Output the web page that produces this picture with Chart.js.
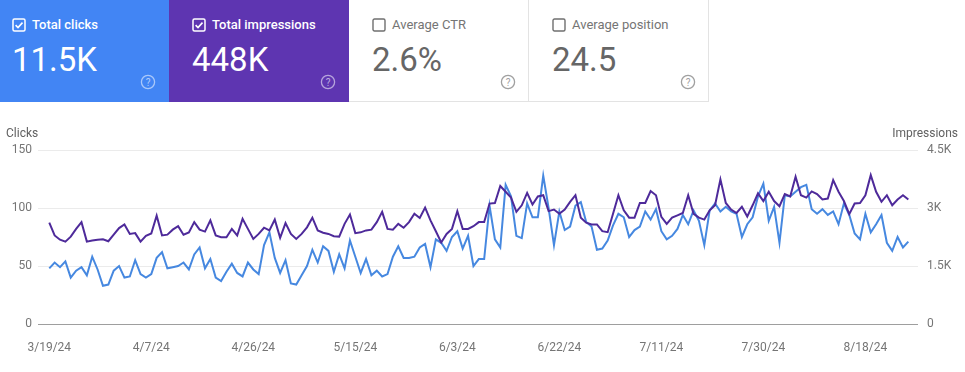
<!DOCTYPE html>
<html>
<head>
<meta charset="utf-8">
<script src="https://cdn.jsdelivr.net/npm/chart.js@4"></script>
<style>
html,body{margin:0;padding:0;background:#fff;}
body{width:965px;height:372px;position:relative;overflow:hidden;font-family:Roboto,Arial,sans-serif;}
.card{position:absolute;top:0;height:102px;box-sizing:border-box;}
.c1{left:0;width:169px;background:#4285f4;color:#fff;}
.c2{left:169px;width:180px;background:#5e35b1;color:#fff;}
.c3{left:349px;width:180px;border-right:1px solid #e3e3e3;border-bottom:1px solid #e3e3e3;color:#757575;}
.c4{left:529px;width:180px;border-right:1px solid #e3e3e3;border-bottom:1px solid #e3e3e3;color:#757575;}
.cb{position:absolute;top:18px;width:14px;height:14px;}
.lbl{position:absolute;top:18px;font-size:13px;line-height:13px;font-weight:500;white-space:nowrap;}
.c3 .lbl,.c4 .lbl{font-weight:400;}
.num{position:absolute;top:43px;font-size:33px;line-height:33px;font-weight:400;white-space:nowrap;}
.c3 .num,.c4 .num{color:#666;}
.help{position:absolute;top:74px;right:13px;width:16px;height:16px;}
#wrap{position:absolute;left:0;top:110px;width:965px;height:262px;}
</style>
</head>
<body>
<div class="card c1">
  <svg class="cb" style="left:12px" viewBox="0 0 14 14"><rect x="1" y="1" width="12" height="12" rx="1.5" fill="none" stroke="#fff" stroke-width="1.5"/><path d="M3.6 7.1 L6 9.5 L10.5 4.6" fill="none" stroke="#fff" stroke-width="1.6"/></svg>
  <div class="lbl" style="left:32px">Total clicks</div>
  <div class="num" style="left:12px">11.5K</div>
  <svg class="help" viewBox="0 0 16 16"><circle cx="8" cy="8" r="6.6" fill="none" stroke="rgba(255,255,255,0.55)" stroke-width="1.3"/><text x="8" y="11.6" font-size="10" font-family="Roboto" text-anchor="middle" fill="rgba(255,255,255,0.6)">?</text></svg>
</div>
<div class="card c2">
  <svg class="cb" style="left:23px" viewBox="0 0 14 14"><rect x="1" y="1" width="12" height="12" rx="1.5" fill="none" stroke="#fff" stroke-width="1.5"/><path d="M3.6 7.1 L6 9.5 L10.5 4.6" fill="none" stroke="#fff" stroke-width="1.6"/></svg>
  <div class="lbl" style="left:43px">Total impressions</div>
  <div class="num" style="left:23px">448K</div>
  <svg class="help" viewBox="0 0 16 16"><circle cx="8" cy="8" r="6.6" fill="none" stroke="rgba(255,255,255,0.55)" stroke-width="1.3"/><text x="8" y="11.6" font-size="10" font-family="Roboto" text-anchor="middle" fill="rgba(255,255,255,0.6)">?</text></svg>
</div>
<div class="card c3">
  <svg class="cb" style="left:23px" viewBox="0 0 14 14"><rect x="1" y="1" width="12" height="12" rx="1.5" fill="none" stroke="#6f6f6f" stroke-width="1.4"/></svg>
  <div class="lbl" style="left:43px">Average CTR</div>
  <div class="num" style="left:23px">2.6%</div>
  <svg class="help" style="right:12px" viewBox="0 0 16 16"><circle cx="8" cy="8" r="6.6" fill="none" stroke="#a0a0a0" stroke-width="1.3"/><text x="8" y="11.6" font-size="10" font-family="Roboto" text-anchor="middle" fill="#a0a0a0">?</text></svg>
</div>
<div class="card c4">
  <svg class="cb" style="left:23px" viewBox="0 0 14 14"><rect x="1" y="1" width="12" height="12" rx="1.5" fill="none" stroke="#6f6f6f" stroke-width="1.4"/></svg>
  <div class="lbl" style="left:43px">Average position</div>
  <div class="num" style="left:23px">24.5</div>
  <svg class="help" style="right:12px" viewBox="0 0 16 16"><circle cx="8" cy="8" r="6.6" fill="none" stroke="#a0a0a0" stroke-width="1.3"/><text x="8" y="11.6" font-size="10" font-family="Roboto" text-anchor="middle" fill="#a0a0a0">?</text></svg>
</div>
<div id="wrap"><canvas id="c"></canvas></div>
<script>
// Daily values, 3/19/24 .. 8/26/24 (161 days)
const clicks = [
  48, 53, 49, 54, 40, 46, 49, 42, 58, 47,
  33, 34, 46, 50, 40, 41, 55, 43, 40, 43,
  57, 62, 48, 49, 50, 53, 47, 60, 66, 48,
  56, 40, 37, 45, 52, 44, 41, 53, 47, 43,
  68, 79, 57, 44, 55, 35, 34, 42, 50, 64,
  53, 67, 63, 45, 60, 48, 72, 58, 44, 56,
  42, 46, 41, 43, 58, 67, 57, 57, 58, 66,
  69, 49, 73, 70, 63, 75, 80, 65, 76, 50,
  56, 56, 102, 73, 66, 120, 110, 76, 74, 104,
  92, 92, 128, 100, 68, 97, 81, 84, 102, 105,
  88, 84, 64, 65, 72, 85, 95, 92, 75, 81,
  84, 97, 90, 99, 80, 73, 76, 82, 94, 86,
  98, 89, 68, 98, 104, 97, 101, 97, 95, 75,
  86, 92, 110, 121, 89, 101, 70, 111, 110, 114,
  118, 120, 99, 95, 99, 94, 97, 86, 104, 94,
  78, 73, 95, 79, 86, 94, 70, 63, 75, 66, 71
];
const impressions = [
  2620, 2290, 2180, 2130, 2260, 2460, 2635, 2130, 2160, 2180,
  2190, 2140, 2310, 2480, 2575, 2330, 2350, 2130, 2280, 2340,
  2800, 2290, 2310, 2440, 2530, 2310, 2370, 2635, 2440, 2390,
  2680, 2290, 2245, 2245, 2460, 2290, 2720, 2460, 2200, 2330,
  2490, 2420, 2700, 2230, 2610, 2330, 2200, 2330, 2500, 2750,
  2420, 2360, 2330, 2270, 2260, 2590, 2830, 2350, 2370, 2420,
  2440, 2635, 2900, 2460, 2440, 2590, 2490, 2635, 2850, 2740,
  3010, 2680, 2400, 2110, 2330, 2460, 2920, 2460, 2460, 2530,
  2635, 2635, 3115, 3130, 3570, 3420, 3270, 2900, 3070, 3390,
  3090, 3300, 3330, 2920, 2960, 2850, 2960, 3160, 3330, 2750,
  2620, 2575, 2575, 2400, 2375, 2850, 3330, 2940, 2750, 2750,
  3130, 3130, 3440, 3330, 2770, 2590, 2750, 2810, 2870, 3330,
  2850, 2750, 2700, 2940, 3070, 3740, 3130, 2960, 2870, 3030,
  2780, 3070, 3380, 3180, 3420, 3180, 3045, 3360, 3300, 3810,
  3330, 3270, 3430, 3360, 3220, 3245, 3720, 3420, 3180, 2840,
  3115, 3130, 3330, 3850, 3420, 3160, 3330, 3070, 3220, 3330, 3220
];
const tickPositions = [0, 19, 38, 57, 76, 95, 114, 133, 152];
const tickLabels = ['3/19/24', '4/7/24', '4/26/24', '5/15/24', '6/3/24', '6/22/24', '7/11/24', '7/30/24', '8/18/24'];
const clickTicks = [0, 50, 100, 150];
const impressionTicks = [0, 1500, 3000, 4500];
const impressionTickLabels = ['0', '1.5K', '3K', '4.5K'];

Chart.defaults.font.family = 'Roboto';

const axisTitles = {
  id: 'axisTitles',
  afterDraw(chart) {
    const c = chart.ctx;
    c.save();
    c.font = '12px Roboto';
    c.fillStyle = '#616161';
    c.textBaseline = 'alphabetic';
    c.textAlign = 'left';
    c.fillText('Clicks', 6, 27);
    c.textAlign = 'right';
    c.fillText('Impressions', 958, 27);
    c.restore();
  }
};

new Chart(document.getElementById('c'), {
  type: 'line',
  data: {
    datasets: [
      {
        label: 'Impressions',
        data: impressions.map((v, i) => ({ x: i, y: v })),
        yAxisID: 'yR',
        borderColor: '#4e2a9a',
        borderWidth: 2,
        pointRadius: 0,
        tension: 0,
        order: 0
      },
      {
        label: 'Clicks',
        data: clicks.map((v, i) => ({ x: i, y: v })),
        yAxisID: 'yL',
        borderColor: '#4688e0',
        borderWidth: 2,
        pointRadius: 0,
        tension: 0,
        order: 1
      }
    ]
  },
  options: {
    responsive: true,
    maintainAspectRatio: false,
    animation: false,
    layout: { padding: { top: 40, left: 0, right: 0, bottom: 0 } },
    plugins: { legend: { display: false }, tooltip: { enabled: false } },
    scales: {
      x: {
        type: 'linear',
        min: -2.1,
        max: 161.8,
        grid: { display: false },
        border: { display: false },
        afterBuildTicks: s => { s.ticks = tickPositions.map(v => ({ value: v })); },
        afterFit: s => { s.height = 48; },
        ticks: {
          autoSkip: false, maxRotation: 0, padding: 9, color: '#757575',
          font: { size: 12 },
          callback: v => { const k = tickPositions.indexOf(v); return k >= 0 ? tickLabels[k] : ''; }
        }
      },
      yL: {
        position: 'left',
        min: 0, max: 150,
        afterBuildTicks: s => { s.ticks = clickTicks.map(v => ({ value: v })); },
        afterFit: s => { s.width = 38; },
        grid: {
          drawTicks: false,
          color: c => (c.tick && c.tick.value === 0) ? '#9e9e9e' : '#ebebeb',
          lineWidth: 1
        },
        border: { display: false },
        ticks: { padding: 6, color: '#757575', font: { size: 12 } }
      },
      yR: {
        position: 'right',
        min: 0, max: 4500,
        afterBuildTicks: s => { s.ticks = impressionTicks.map(v => ({ value: v })); },
        afterFit: s => { s.width = 47; },
        grid: { display: false, drawTicks: false },
        border: { display: false },
        ticks: {
          padding: 9, color: '#757575', font: { size: 12 },
          callback: v => { const k = impressionTicks.indexOf(v); return k >= 0 ? impressionTickLabels[k] : ''; }
        }
      }
    }
  },
  plugins: [axisTitles]
});
</script>
</body>
</html>
